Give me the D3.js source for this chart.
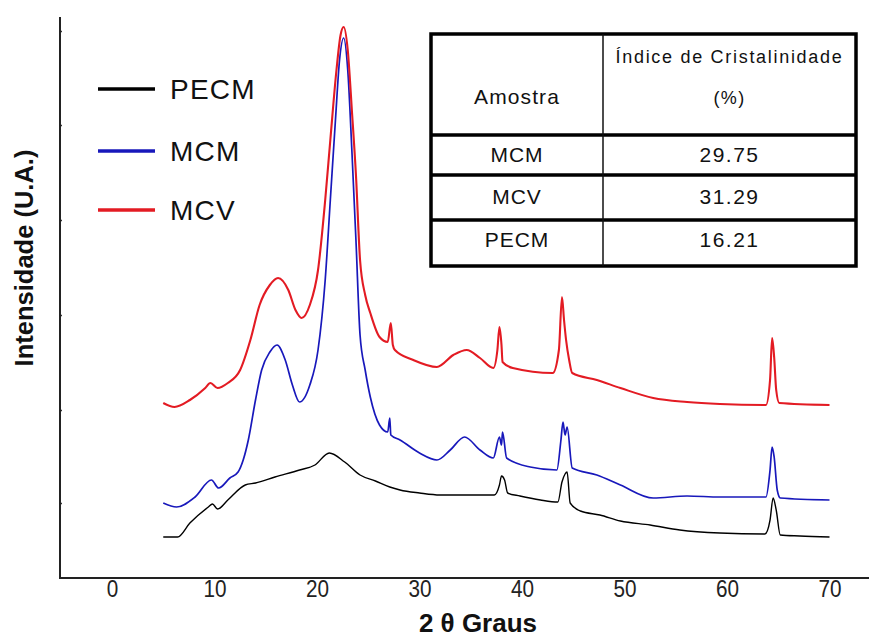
<!DOCTYPE html>
<html>
<head>
<meta charset="utf-8">
<script src="https://cdn.jsdelivr.net/npm/d3@7"></script>
<style>
  html, body { margin: 0; padding: 0; background: #fff; }
  svg { display: block; }
  text { font-family: "Liberation Sans", Arial, sans-serif; }
</style>
</head>
<body>
<svg id="chart" width="869" height="639"></svg>
<script>
// ---- data (2θ in degrees, intensity in arbitrary units) ----
const seriesNames = ["PECM", "MCM", "MCV"];
const seriesColors = ["#000000", "#1818bb", "#e31b23"];

const pecm = [
  [5.0,41],[6.4,41],[7.6,55],[9.4,71],[9.8,74],[10.3,69],[11.3,78],[13.0,93],[14.0,95],
  [15.9,101],[18.3,108],[19.8,113],[21.2,125],[22.7,116],[24.2,103],[25.7,97],[27.1,91],
  [28.1,88],[30.0,85],[32.0,83],[34.9,83],[37.3,83],[37.8,93],[38.0,102],[38.3,98],[38.6,85],
  [39.8,82],[41.8,78],[43.5,76],[43.9,96],[44.2,104],[44.4,106],[44.7,75],[45.7,67],[47.6,63],
  [49.6,57],[52.5,53],[55.4,48],[59.3,45],[63.7,44],[64.2,58],[64.5,80],[64.8,68],[65.2,43],
  [67.1,42],[70.0,41]
];
const mcm = [
  [5.0,75],[6.3,71],[8.1,81],[9.7,98],[10.4,90],[11.5,100],[12.3,106],[12.8,118],[13.3,138],
  [14.0,178],[14.6,208],[15.4,226],[16.1,233],[16.9,218],[17.6,193],[18.3,176],[19.3,193],
  [20.1,228],[20.8,298],[21.3,378],[21.8,458],[22.2,518],[22.6,540],[23.0,508],[23.4,428],
  [23.8,338],[24.2,243],[24.7,208],[25.2,181],[26.1,153],[26.9,146],[27.1,160],[27.2,143],
  [28.1,138],[30.0,125],[31.7,118],[33.0,128],[34.4,141],[35.9,128],[37.2,120],[37.8,141],
  [38.0,133],[38.1,146],[38.5,120],[40.8,111],[43.4,108],[43.8,138],[44.0,156],[44.2,143],
  [44.4,151],[44.9,110],[47.3,103],[49.6,93],[52.8,80],[56.1,82],[59.3,81],[63.8,81],
  [64.2,108],[64.4,131],[64.6,121],[64.9,88],[65.2,80],[70.0,78]
];
const mcv = [
  [5.0,175],[6.1,171],[7.6,178],[9.1,190],[9.6,195],[10.3,190],[11.3,195],[12.5,208],[13.5,238],
  [14.4,273],[15.4,293],[16.2,300],[17.2,288],[17.9,268],[18.5,260],[19.3,273],[20.1,308],
  [20.8,378],[21.3,438],[21.9,508],[22.3,543],[22.6,551],[23.0,528],[23.4,468],[23.8,403],
  [24.2,318],[24.7,283],[25.2,265],[26.1,241],[26.9,236],[27.2,255],[27.4,233],[27.6,228],
  [29.4,218],[31.7,211],[33.3,223],[34.6,228],[35.9,220],[37.2,210],[37.6,228],[37.8,251],
  [38.0,233],[38.1,216],[39.1,210],[43.0,205],[43.6,228],[43.9,281],[44.1,258],[44.3,238],
  [44.6,218],[44.9,205],[47.3,198],[49.6,190],[52.8,180],[56.1,176],[59.3,174],[63.8,173],
  [64.2,198],[64.4,240],[64.6,221],[64.8,188],[65.1,175],[70.0,173]
];
const seriesData = [pecm, mcm, mcv];

const xTicks = [0, 10, 20, 30, 40, 50, 60, 70];
const yTicks = [75, 168, 263, 358, 453, 547];

const tableHeader = ["Amostra", "Índice de Cristalinidade", "(%)"];
const tableSamples = ["MCM", "MCV", "PECM"];
const tableValues = ["29.75", "31.29", "16.21"];

// ---- layout ----
const svg = d3.select("#chart");
const axisLeft = 60, axisRight = 869, axisTop = 17, axisBottom = 578;

const x = d3.scaleLinear().domain([0, 70]).range([112, 829.5]);
const y = d3.scaleLinear().domain([0, 561]).range([axisBottom, axisTop]);

// curves
const line = d3.line().x(d => x(d[0])).y(d => y(d[1])).curve(d3.curveMonotoneX);
svg.append("g").selectAll("path")
  .data(seriesData.map((d, i) => ({ d, i })))
  .join("path")
  .attr("d", o => line(o.d))
  .attr("fill", "none")
  .attr("stroke", o => seriesColors[o.i])
  .attr("stroke-width", o => [1.4, 1.7, 2.1][o.i])
  .attr("stroke-linejoin", "round");

// axes
const xAxis = d3.axisBottom(x).tickValues(xTicks).tickSize(0).tickPadding(3);
const gx = svg.append("g").attr("transform", `translate(0,${axisBottom})`).call(xAxis);
gx.select(".domain").remove();
gx.selectAll("text").attr("font-size", 23).attr("fill", "#222")
  .attr("font-family", "'Liberation Sans', Arial, sans-serif")
  .attr("transform", "scale(0.9,1)");
svg.append("line").attr("x1", axisLeft).attr("x2", axisRight).attr("y1", axisBottom).attr("y2", axisBottom)
  .attr("stroke", "#222").attr("stroke-width", 2);

const yAxis = d3.axisRight(y).tickValues(yTicks).tickSize(2).tickFormat("");
const gy = svg.append("g").attr("transform", `translate(${axisLeft},0)`).call(yAxis);
gy.select(".domain").remove();
gy.selectAll("line").attr("stroke", "#333").attr("stroke-width", 1.5);
svg.append("line").attr("x1", axisLeft).attr("x2", axisLeft).attr("y1", axisTop).attr("y2", axisBottom + 1)
  .attr("stroke", "#222").attr("stroke-width", 2);

// axis titles
svg.append("text").attr("x", 478).attr("y", 632).attr("text-anchor", "middle")
  .attr("font-size", 26).attr("font-weight", "bold").attr("fill", "#111")
  .text("2 θ Graus");
svg.append("text").attr("transform", "translate(33,258) rotate(-90)").attr("text-anchor", "middle")
  .attr("font-size", 25.5).attr("font-weight", "bold").attr("fill", "#111")
  .text("Intensidade (U.A.)");

// legend
const legendY = [89, 151, 210];
const lg = svg.append("g");
seriesNames.forEach((n, i) => {
  lg.append("line").attr("x1", 98).attr("x2", 155).attr("y1", legendY[i]).attr("y2", legendY[i])
    .attr("stroke", seriesColors[i]).attr("stroke-width", 3.5);
  lg.append("text").attr("x", 170).attr("y", legendY[i] + 10).attr("font-size", 28)
    .attr("letter-spacing", 1.2).attr("fill", "#111").text(n);
});

// table
const tb = svg.append("g");
const tL = 431, tR = 856, tT = 34, tB = 266, tC = 603;
const rowLines = [135, 175, 220];
tb.append("rect").attr("x", tL).attr("y", tT).attr("width", tR - tL).attr("height", tB - tT)
  .attr("fill", "#fff").attr("stroke", "#000").attr("stroke-width", 3.5);
rowLines.forEach(r => tb.append("line").attr("x1", tL).attr("x2", tR).attr("y1", r).attr("y2", r)
  .attr("stroke", "#000").attr("stroke-width", 3.5));
tb.append("line").attr("x1", tC).attr("x2", tC).attr("y1", tT).attr("y2", tB)
  .attr("stroke", "#111").attr("stroke-width", 1.5);
const c1 = (tL + tC) / 2, c2 = (tC + tR) / 2;
tb.append("text").attr("x", c1).attr("y", 104).attr("text-anchor", "middle").attr("font-size", 21)
  .attr("fill", "#111").attr("letter-spacing", 1.1).text(tableHeader[0]);
tb.append("text").attr("x", c2).attr("y", 63).attr("text-anchor", "middle").attr("font-size", 18)
  .attr("fill", "#111").attr("letter-spacing", 1.7).text(tableHeader[1]);
tb.append("text").attr("x", c2).attr("y", 104).attr("text-anchor", "middle").attr("font-size", 18)
  .attr("fill", "#111").attr("letter-spacing", 1.4).text(tableHeader[2]);
const rowMid = [155, 197, 240];
tableSamples.forEach((s, i) => {
  tb.append("text").attr("x", c1).attr("y", rowMid[i] + 7).attr("text-anchor", "middle").attr("font-size", 21)
    .attr("fill", "#111").attr("letter-spacing", 1).text(s);
  tb.append("text").attr("x", c2).attr("y", rowMid[i] + 7).attr("text-anchor", "middle").attr("font-size", 21)
    .attr("fill", "#111").attr("letter-spacing", 1.5).text(tableValues[i]);
});
</script>
</body>
</html>
